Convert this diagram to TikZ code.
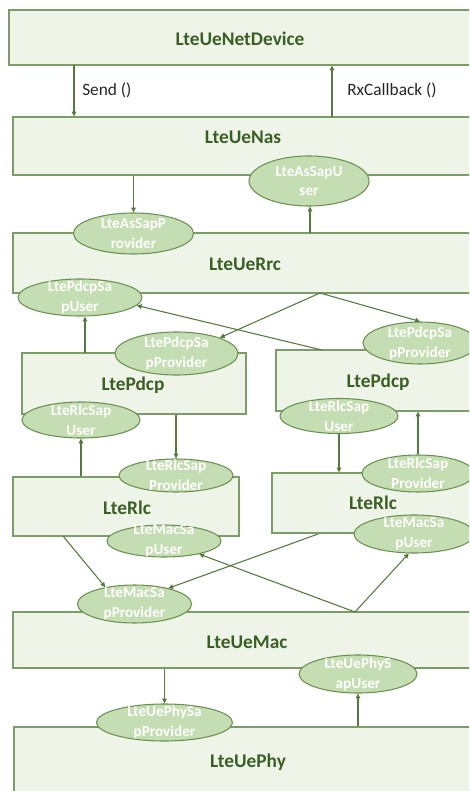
\documentclass[tikz,border=0pt]{standalone}
\usepackage{fontspec}
\setmainfont{Carlito}
\usetikzlibrary{shapes.geometric,arrows.meta,fit}

\definecolor{boxfill}{HTML}{EEF5E8}
\definecolor{boxline}{HTML}{7C9C68}
\definecolor{ellfill}{HTML}{C5DDB2}
\definecolor{ellline}{HTML}{6B9152}
\definecolor{titlegreen}{HTML}{3B5E25}
\definecolor{arrowgreen}{HTML}{557A3F}
\definecolor{labelgray}{HTML}{262626}

\tikzset{
  layer/.style={draw=boxline, fill=boxfill, line width=0.8pt, rectangle, inner sep=0pt},
  layertitle/.style={text=titlegreen, font=\bfseries\fontsize{14.5}{17}\selectfont, inner sep=0pt},
  sap/.style 2 args={draw=ellline, fill=ellfill, line width=0.8pt, ellipse, inner sep=0pt,
    minimum width=#1*1.5pt, minimum height=#2*1.5pt},
  saptext/.style={text=white, align=center, inner sep=0pt,
    font=\bfseries\fontsize{11.4}{14.8}\selectfont},
  calllabel/.style={text=labelgray, anchor=west, inner sep=0pt, font=\fontsize{13}{15}\selectfont},
  arr/.style={draw=arrowgreen, line width=0.8pt, -{Triangle[length=3.6pt,width=3.4pt]}},
}

\begin{document}
\begin{tikzpicture}[x=0.75pt,y=-0.75pt]
\clip (0,0) rectangle (469,791);
\fill[white] (0,0) rectangle (469,791);

% protocol layers
\node[layer, fit={(9,10) (480,65)}]    (netdev) {};
\node[layer, fit={(13,117) (480,175)}] (nas) {};
\node[layer, fit={(13,233) (480,293)}] (rrc) {};
\node[layer, fit={(22,353) (246,414)}] (pdcpL) {};
\node[layer, fit={(276,350) (480,411)}] (pdcpR) {};
\node[layer, fit={(13,477) (239,536)}] (rlcL) {};
\node[layer, fit={(272,473) (480,533)}] (rlcR) {};
\node[layer, fit={(13,612) (480,668)}] (mac) {};
\node[layer, fit={(14,727) (480,800)}] (phy) {};

\node[layertitle] (netdev-t) at (240,39)  {LteUeNetDevice};
\node[layertitle] (nas-t)    at (243,137) {LteUeNas};
\node[layertitle] (rrc-t)    at (245,264) {LteUeRrc};
\node[layertitle] (pdcpL-t)  at (133,385) {LtePdcp};
\node[layertitle] (pdcpR-t)  at (378,382) {LtePdcp};
\node[layertitle] (rlcL-t)   at (127,508) {LteRlc};
\node[layertitle] (rlcR-t)   at (373,503) {LteRlc};
\node[layertitle] (mac-t)    at (247,642) {LteUeMac};
\node[layertitle] (phy-t)    at (248,762) {LteUePhy};

% service access points
\node[sap={60}{25}]     (asu)     at (309,181)   {};
\node[sap={60}{20.5}]   (asp)     at (133.5,233.5) {};
\node[sap={62}{18.5}]   (pdcpsu)  at (80,297.5)  {};
\node[sap={61.5}{21.5}] (pdcpspL) at (176.5,353.5) {};
\node[sap={57}{21}]     (pdcpspR) at (420,343)   {};
\node[sap={59}{18}]     (rlcsuL)  at (81,420)    {};
\node[sap={59}{17.5}]   (rlcsuR)  at (339,416)   {};
\node[sap={57}{16.5}]   (rlcspL)  at (176,475.5) {};
\node[sap={56}{18.5}]   (rlcspR)  at (418,473.5) {};
\node[sap={57}{16}]     (macsuL)  at (164,541)   {};
\node[sap={60}{19}]     (macsuR)  at (414,534)   {};
\node[sap={57}{19}]     (macsp)   at (134.5,604) {};
\node[sap={59}{19}]     (physu)   at (358,674)   {};
\node[sap={68}{18.5}]   (physp)   at (164.5,722.5) {};

\node[saptext] (asu-t)     at (asu)     {LteAsSapU\\ser};
\node[saptext] (asp-t)     at (asp)     {LteAsSapP\\rovider};
\node[saptext] (pdcpsu-t)  at (pdcpsu)  {LtePdcpSa\\pUser};
\node[saptext] (pdcpspL-t) at (pdcpspL) {LtePdcpSa\\pProvider};
\node[saptext] (pdcpspR-t) at (pdcpspR) {LtePdcpSa\\pProvider};
\node[saptext] (rlcsuL-t)  at (rlcsuL)  {LteRlcSap\\User};
\node[saptext] (rlcsuR-t)  at (rlcsuR)  {LteRlcSap\\User};
\node[saptext] (rlcspL-t)  at (rlcspL)  {LteRlcSap\\Provider};
\node[saptext] (rlcspR-t)  at (rlcspR)  {LteRlcSap\\Provider};
\node[saptext] (macsuL-t)  at (macsuL)  {LteMacSa\\pUser};
\node[saptext] (macsuR-t)  at (macsuR)  {LteMacSa\\pUser};
\node[saptext] (macsp-t)   at (macsp)   {LteMacSa\\pProvider};
\node[saptext] (physu-t)   at (physu)   {LteUePhyS\\apUser};
\node[saptext] (physp-t)   at (physp)   {LteUePhySa\\pProvider};

% calls between the device and the NAS
\coordinate (sendtop) at (74,65);
\coordinate (rxbot)   at (332,117);
\draw[arr] (sendtop) -- (sendtop |- nas.north);
\draw[arr] (rxbot) -- (rxbot |- netdev.south);
\node[calllabel] (send-l) at (82,90)  {Send ()};
\node[calllabel] (rx-l)   at (347,90) {RxCallback ()};

% NAS <-> RRC
\draw[arr] (asp.north |- nas.south) -- (asp.north);
\coordinate (rrcup) at (310,233);
\draw[arr] (rrcup) -- (rrcup |- asu.south);

% RRC <-> PDCP
\coordinate (rrcfork) at (320,293);
\draw[arr] (rrcfork) -- (pdcpspL.20);
\draw[arr] (rrcfork) -- (pdcpspR.north);
\coordinate (pdcpLup) at (85,353);
\draw[arr] (pdcpLup) -- (pdcpLup |- pdcpsu.south);
\coordinate (pdcpRup) at (322,350);
\draw[arr] (pdcpRup) -- (pdcpsu.-8);

% PDCP <-> RLC
\draw[arr] (rlcspL.north |- pdcpL.south) -- (rlcspL.north);
\draw[arr] (rlcsuL.south |- rlcL.north) -- (rlcsuL.south);
\draw[arr] (rlcsuR.south) -- (rlcsuR.south |- rlcR.north);
\draw[arr] (rlcspR.north) -- (rlcspR.north |- pdcpR.south);

% RLC <-> MAC
\coordinate (rlcLdown) at (63,536);
\coordinate (rlcRdown) at (318,534);
\draw[arr] (rlcLdown) -- (macsp.150);
\draw[arr] (rlcRdown) -- (macsp.25);
\coordinate (macup) at (355,612);
\draw[arr] (macup) -- (macsuL);
\draw[arr] (macup) -- (macsuR.255);

% MAC <-> PHY
\draw[arr] (physp.north |- mac.south) -- (physp.north);
\draw[arr] (physu.south |- phy.north) -- (physu.south);
\end{tikzpicture}
\end{document}
